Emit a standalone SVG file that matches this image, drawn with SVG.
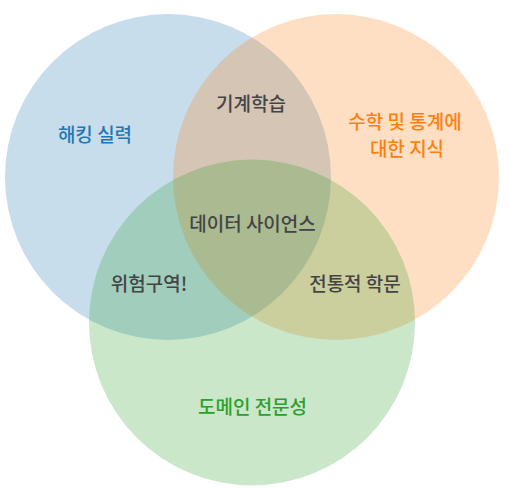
<svg xmlns="http://www.w3.org/2000/svg" width="510" height="491" viewBox="0 0 510 491">
<style>
text{font-family:"Noto Sans CJK KR","Noto Sans",sans-serif;font-size:19px;font-weight:500;text-anchor:middle}
.c{fill-opacity:0.25}
.d{fill:#444}
</style>
<rect width="510" height="491" fill="#fff"/>
<g id="set-hacking"><circle class="c" cx="168" cy="177" r="163" fill="#1f77b4"/></g>
<g id="set-math"><circle class="c" cx="336" cy="177" r="163" fill="#ff7f0e"/></g>
<g id="set-domain"><circle class="c" cx="252" cy="322.5" r="163" fill="#2ca02c"/></g>
<g id="labels">
<text x="95" y="142" fill="#1f77b4">해킹 실력</text>
<text x="405" y="129" fill="#ff7f0e">수학 및 통계에</text>
<text x="407" y="156" fill="#ff7f0e">대한 지식</text>
<text x="252.5" y="414" fill="#2ca02c">도메인 전문성</text>
<text class="d" x="251" y="111">기계학습</text>
<text class="d" x="252.5" y="231">데이터 사이언스</text>
<text class="d" x="149" y="291">위험구역!</text>
<text class="d" x="355" y="291">전통적 학문</text>
</g>
<g id="connectors"/>
</svg>
